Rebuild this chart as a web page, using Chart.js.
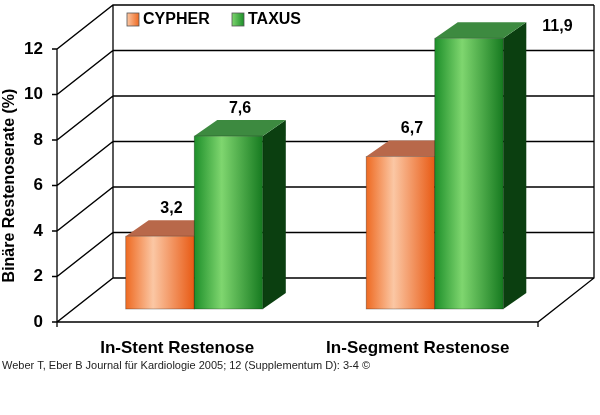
<!DOCTYPE html>
<html><head><meta charset="utf-8">
<script src="https://cdn.jsdelivr.net/npm/chart.js@4"></script>
<style>html,body{margin:0;background:#fff}#w{width:600px;height:415px}</style>
</head><body><div id="w"><canvas id="c"></canvas></div>
<script>
const categories = ["In-Stent Restenose", "In-Segment Restenose"];
const cypher = [3.2, 6.7];
const taxus = [7.6, 11.9];
const yTicks = [0, 2, 4, 6, 8, 10, 12];
const DX = 56, DY = -44, FX = 17, FY = -13, BX = 23, BY = -16;
const styles = [
  {l:'#ee6a22', m:'#fbc7a4', r:'#e85a14', side:'#8a3508', top:'#b8684a'},
  {l:'#1d8f2a', m:'#7fd66f', r:'#167a20', side:'#0b3f10', top:'#3d8a40'}
];
const deco = {
  id:'deco',
  beforeDatasetsDraw(ch){
    const c = ch.ctx, y = ch.scales.y, a = ch.chartArea;
    c.save(); c.strokeStyle='#000'; c.lineWidth=1.3;
    const L=a.left, R=a.right, y0=y.getPixelForValue(0);
    c.beginPath();
    yTicks.forEach(v=>{const p=y.getPixelForValue(v);
      c.moveTo(L-5,p);c.lineTo(L,p);c.lineTo(L+DX,p+DY);c.lineTo(R+DX,p+DY);});
    c.moveTo(L,y.getPixelForValue(12));c.lineTo(L,y0);c.lineTo(R,y0);c.lineTo(R+DX,y0+DY);c.lineTo(R+DX,y.getPixelForValue(12)+DY);
    c.moveTo(L+DX,y.getPixelForValue(12)+DY);c.lineTo(L+DX,y0+DY);
    c.moveTo(R,y0);c.lineTo(R,y0+5);c.moveTo(L,y0);c.lineTo(L,y0+5);
    c.stroke();
    ch.data.datasets.forEach((ds,di)=>{
      const s=styles[di];
      ch.getDatasetMeta(di).data.forEach((el,i)=>{
        const w=el.width, x0=el.x-w/2+FX, x1=el.x+w/2+FX;
        const top=el.y+FY, bot=el.base+FY;
        c.fillStyle=s.side;c.beginPath();c.moveTo(x1,top);c.lineTo(x1+BX,top+BY);c.lineTo(x1+BX,bot+BY);c.lineTo(x1,bot);c.closePath();c.fill();
        c.fillStyle=s.top;c.beginPath();c.moveTo(x0,top);c.lineTo(x0+BX,top+BY);c.lineTo(x1+BX,top+BY);c.lineTo(x1,top);c.closePath();c.fill();
        const g=c.createLinearGradient(x0,0,x1,0);
        g.addColorStop(0,s.l);g.addColorStop(0.4,s.m);g.addColorStop(1,s.r);
        c.fillStyle=g;c.fillRect(x0,top,w,bot-top);
        c.strokeStyle='rgba(0,0,0,0.35)';c.lineWidth=0.8;c.strokeRect(x0,top,w,bot-top);
        c.fillStyle='#000';c.font='bold 16px Arial, "Liberation Sans"';c.textAlign='center';c.textBaseline='bottom';
        const lbl=ds.data[i].toFixed(1).replace('.',',');
        if(di===1&&i===1){c.textAlign='left';c.fillText(lbl,x1+BX+16,top+BY+12);}
        else c.fillText(lbl,(x0+x1)/2+BX/2,top+BY-4);
      });
    });
    c.restore();
  },
  afterDraw(ch){
    const c=ch.ctx;c.save();
    c.font='bold 16px Arial, "Liberation Sans"';c.textBaseline='middle';c.textAlign='left';
    [[127,'CYPHER',0],[232,'TAXUS',1]].forEach(([x,t,i])=>{
      const g=c.createLinearGradient(x,0,x+12,0);g.addColorStop(0,styles[i].m);g.addColorStop(1,styles[i].l);
      c.fillStyle=g;c.fillRect(x,13,12,13);c.strokeStyle='#555';c.lineWidth=0.8;c.strokeRect(x,13,12,13);
      c.fillStyle='#000';c.fillText(t,x+16,20);});
    c.font='11px Arial, "Liberation Sans"';c.fillStyle='#222';
    c.fillText('Weber T, Eber B Journal für Kardiologie 2005; 12 (Supplementum D): 3-4 ©',2,366);
    c.restore();
  }
};
new Chart(document.getElementById('c'),{
  type:'bar',
  data:{labels:categories,datasets:[
    {label:'CYPHER',data:cypher,backgroundColor:'rgba(0,0,0,0)'},
    {label:'TAXUS',data:taxus,backgroundColor:'rgba(0,0,0,0)'}]},
  options:{responsive:true,maintainAspectRatio:false,animation:false,
    layout:{padding:{top:49,right:62,left:0,bottom:0}},
    datasets:{bar:{categoryPercentage:0.57,barPercentage:1}},
    plugins:{legend:{display:false},tooltip:{enabled:false}},
    scales:{
      x:{grid:{display:false},border:{display:false},
        ticks:{color:'#000',font:{family:'Arial, "Liberation Sans"',weight:'bold',size:17},padding:8},
        afterFit(s){s.height=93;}},
      y:{min:0,max:12,afterBuildTicks(s){s.ticks=yTicks.map(v=>({value:v}));},
        grid:{display:false},border:{display:false},
        ticks:{color:'#000',font:{family:'Arial, "Liberation Sans"',weight:'bold',size:17},padding:6},
        title:{display:true,text:'Binäre Restenoserate (%)',color:'#000',font:{family:'Arial, "Liberation Sans"',weight:'bold',size:16},padding:{top:0,bottom:2}},
        afterFit(s){s.width=57;}}
    }},
  plugins:[deco]
});
</script></body></html>
